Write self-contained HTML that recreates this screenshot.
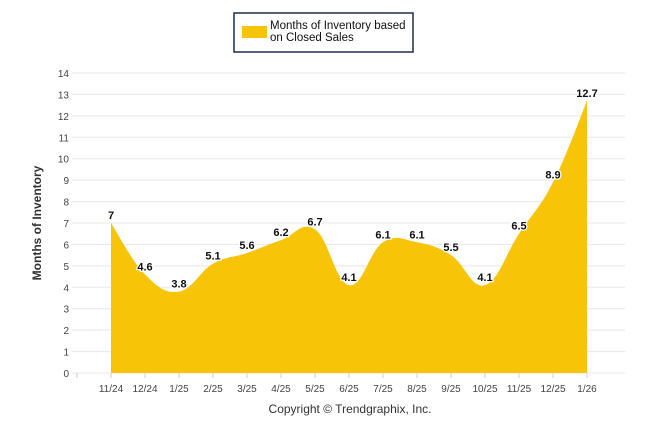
<!DOCTYPE html>
<html><head><meta charset="utf-8"><style>
body{margin:0;background:#fff;font-family:"Liberation Sans",sans-serif;}
svg text{font-family:"Liberation Sans",sans-serif;}
</style></head><body>
<svg id="c" width="646" height="434">
<g>
<rect x="234" y="13" width="179" height="39" fill="#fff" stroke="#1f2d4d" stroke-width="1.5"/>
<rect x="242" y="26" width="25" height="12" fill="#f7c407"/>
<text x="270" y="29" font-size="11.5" fill="#111">Months of Inventory based</text>
<text x="270" y="41" font-size="11.5" fill="#111">on Closed Sales</text>
</g>
<text transform="translate(41,223) rotate(-90)" text-anchor="middle" font-size="12" font-weight="bold" fill="#333">Months of Inventory</text>
<g id="grid"></g><g id="area"></g><g id="labels"></g>
<text x="350" y="413" text-anchor="middle" font-size="12" fill="#333">Copyright © Trendgraphix, Inc.</text>
</svg>
<script>
const categories=["11/24","12/24","1/25","2/25","3/25","4/25","5/25","6/25","7/25","8/25","9/25","10/25","11/25","12/25","1/26"];
const values=[7,4.6,3.8,5.1,5.6,6.2,6.7,4.1,6.1,6.1,5.5,4.1,6.5,8.9,12.7];
const yTicks=[0,1,2,3,4,5,6,7,8,9,10,11,12,13,14];
const NS="http://www.w3.org/2000/svg";
const X0=77,X1=625,Y0=373,Y1=73;
function xs(i){return 111+i*34;}
function ys(v){return Y0-(v/14)*(Y0-Y1);}
function mk(t,a,p){const e=document.createElementNS(NS,t);for(const k in a)e.setAttribute(k,a[k]);p.appendChild(e);return e;}
const g=document.getElementById('grid');
yTicks.forEach(v=>{
 const l=mk('line',{x1:X0-5,x2:X1,y1:ys(v),y2:ys(v),stroke:'#e8e8e8'},g);
 
 
 const t=mk('text',{x:X0-8,y:ys(v)+4,'text-anchor':'end','font-size':'10',fill:'#444'},g);
 t.textContent=v;
 
 
});
mk('line',{x1:X0,x2:X0,y1:Y0,y2:Y0+5,stroke:'#ccc'},g);
categories.forEach((c,i)=>{
 mk('line',{x1:xs(i),x2:xs(i),y1:Y0,y2:Y0+5,stroke:'#ccc'},g);
 const t=mk('text',{x:xs(i),y:Y0+19,'text-anchor':'middle','font-size':'10',fill:'#444'},g);
 t.textContent=c;
 
 
});
const P=values.map((v,i)=>[xs(i),ys(v)]);
let d='M'+xs(0)+','+Y0+' L'+P[0][0]+','+P[0][1];
const k=0.2;
for(let i=0;i<P.length-1;i++){
 const p0=P[Math.max(0,i-1)],p1=P[i],p2=P[i+1],p3=P[Math.min(P.length-1,i+2)];
 const c1=[p1[0]+(p2[0]-p0[0])*k,p1[1]+(p2[1]-p0[1])*k];
 const c2=[p2[0]-(p3[0]-p1[0])*k,p2[1]-(p3[1]-p1[1])*k];
 d+=' C'+c1+' '+c2+' '+p2;
}
d+=' L'+xs(P.length-1)+','+Y0+' Z';
const a=mk('path',{d:d,fill:'#f7c407'},document.getElementById('area'));


const lg=document.getElementById('labels');
values.forEach((v,i)=>{
 const t=mk('text',{x:xs(i),y:ys(v)-4,'text-anchor':'middle','font-size':'11','font-weight':'bold',fill:'#111',stroke:'#fff','stroke-width':'2.5','paint-order':'stroke'},lg);
 t.textContent=v;
 
 
});
</script>
</body></html>
